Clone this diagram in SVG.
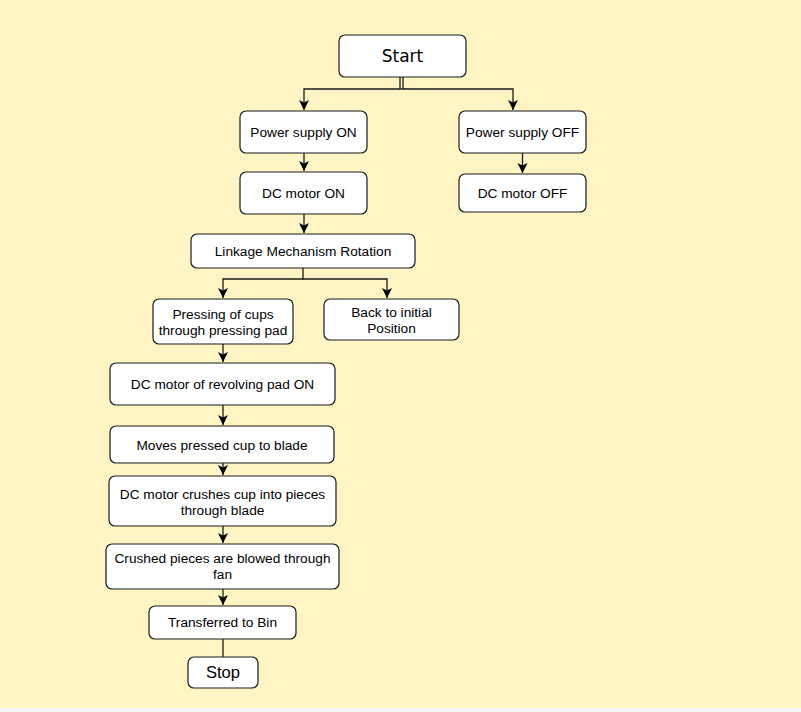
<svg xmlns="http://www.w3.org/2000/svg" width="801" height="712" viewBox="0 0 801 712">
<defs>
<style>
.box{fill:#ffffff;stroke:#1a1a1a;stroke-width:1.2}
.t{font-family:"Liberation Sans",Arial,sans-serif;font-size:13.7px;fill:#000;text-anchor:middle}
.big{font-size:16.5px}
.st{font-family:"Comic Sans MS","DejaVu Sans",sans-serif;font-size:17px;fill:#000;text-anchor:middle}
.c{fill:none;stroke:#1a1a1a;stroke-width:1.3}
</style>
<marker id="arr" markerWidth="12" markerHeight="12" refX="10" refY="5.5" orient="auto" markerUnits="userSpaceOnUse">
<path d="M0,0.5 L10,5.5 L0,10.5 L2.5,5.5 Z" fill="#000"/>
</marker>
</defs>
<rect x="0" y="0" width="801" height="708" fill="#fff4c4"/>
<rect x="0" y="708" width="801" height="4" fill="#f5f7f8"/>
<g id="connectors">
<path class="c" d="M400,77 V89 M403,77 V89"/>
<path class="c" d="M401.5,89 H304 V110" marker-end="url(#arr)"/>
<path class="c" d="M401.5,89 H513 V110" marker-end="url(#arr)"/>
<path class="c" d="M304,153 V171" marker-end="url(#arr)"/>
<path class="c" d="M522.5,153 V173" marker-end="url(#arr)"/>
<path class="c" d="M304,214 V233" marker-end="url(#arr)"/>
<path class="c" d="M303,268 V279 H223 V298" marker-end="url(#arr)"/>
<path class="c" d="M303,279 H387 V298" marker-end="url(#arr)"/>
<path class="c" d="M223,344 V362" marker-end="url(#arr)"/>
<path class="c" d="M223,405 V425" marker-end="url(#arr)"/>
<path class="c" d="M223,463 V475" marker-end="url(#arr)"/>
<path class="c" d="M223,526 V543" marker-end="url(#arr)"/>
<path class="c" d="M223,589 V605" marker-end="url(#arr)"/>
<path class="c" d="M223,639 V657"/>
</g>
<g id="start"><rect class="box" x="339" y="35" width="127" height="42" rx="6"/><text class="st" x="402.5" y="62">Start</text></g>
<g id="ps-on"><rect class="box" x="240" y="111" width="127" height="42" rx="6"/><text class="t" x="303.5" y="137">Power supply ON</text></g>
<g id="ps-off"><rect class="box" x="459" y="111" width="127" height="42" rx="6"/><text class="t" x="522.5" y="137">Power supply OFF</text></g>
<g id="dc-on"><rect class="box" x="240" y="172" width="127" height="42" rx="6"/><text class="t" x="303.5" y="198">DC motor ON</text></g>
<g id="dc-off"><rect class="box" x="459" y="174" width="127" height="38" rx="6"/><text class="t" x="522.5" y="198">DC motor OFF</text></g>
<g id="linkage"><rect class="box" x="191" y="234" width="224" height="34" rx="6"/><text class="t" x="303" y="256">Linkage Mechanism Rotation</text></g>
<g id="pressing"><rect class="box" x="153" y="299" width="140" height="45" rx="6"/><text class="t" x="223" y="319">Pressing of cups</text><text class="t" x="223" y="335">through pressing pad</text></g>
<g id="back"><rect class="box" x="324" y="299" width="135" height="41" rx="6"/><text class="t" x="391.5" y="317">Back to initial</text><text class="t" x="391.5" y="333">Position</text></g>
<g id="dc-rev"><rect class="box" x="110" y="363" width="225" height="42" rx="6"/><text class="t" x="222.5" y="389">DC motor of revolving pad ON</text></g>
<g id="moves"><rect class="box" x="110" y="426" width="224" height="37" rx="6"/><text class="t" x="222" y="450">Moves pressed cup to blade</text></g>
<g id="crushes"><rect class="box" x="109" y="476" width="227" height="50" rx="6"/><text class="t" x="222.5" y="499">DC motor crushes cup into pieces</text><text class="t" x="222.5" y="515">through blade</text></g>
<g id="blowed"><rect class="box" x="106" y="544" width="233" height="45" rx="6"/><text class="t" x="222.5" y="563">Crushed pieces are blowed through</text><text class="t" x="222.5" y="579">fan</text></g>
<g id="bin"><rect class="box" x="149" y="606" width="147" height="33" rx="6"/><text class="t" x="222.5" y="627">Transferred to Bin</text></g>
<g id="stop"><rect class="box" x="188" y="657" width="70" height="31" rx="6"/><text class="t big" x="223" y="678">Stop</text></g>
</svg>
